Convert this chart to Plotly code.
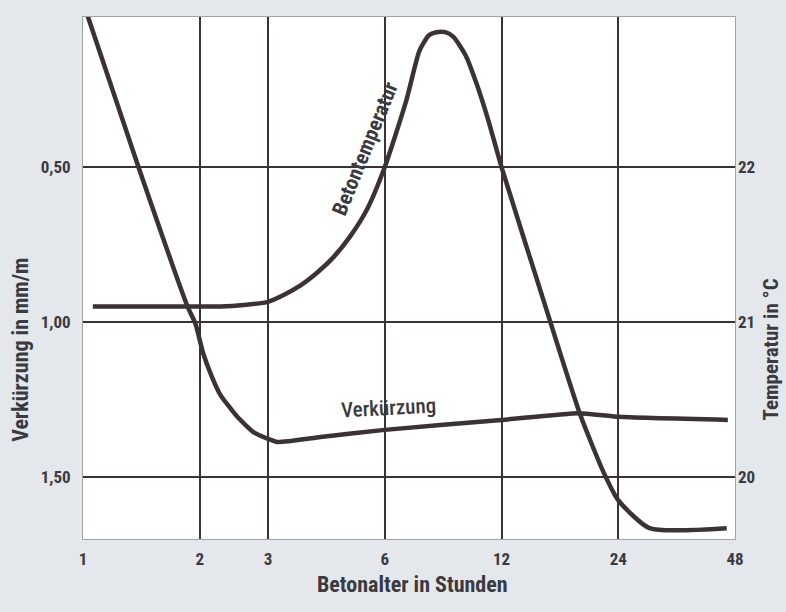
import math
import plotly.graph_objects as go

# Verkürzung (linke Achse, mm/m)
verk_stunden = [1.02, 1.39, 1.86, 1.95, 2.04, 2.15, 2.26, 2.50, 2.75, 3.0, 3.17, 4.1, 6, 12, 19, 24, 46]
verk_werte = [0.0, 0.5, 0.95, 1.006, 1.10, 1.177, 1.235, 1.306, 1.355, 1.377, 1.387, 1.371, 1.348, 1.316, 1.294, 1.306, 1.316]

# Betontemperatur (rechte Achse, °C)
temp_stunden = [1.06, 2.0, 2.26, 2.6, 3.0, 3.30, 3.63, 4.02, 4.42, 4.89, 5.41, 6.0, 6.82, 7.37, 7.8, 8.15, 8.6, 9.02, 9.7, 10.34, 11.1, 12, 15.4, 19.1, 22.0, 24, 28.9, 45.7]
temp_werte = [21.10, 21.10, 21.10, 21.11, 21.13, 21.176, 21.235, 21.32, 21.417, 21.554, 21.731, 22.0, 22.43, 22.75, 22.85, 22.87, 22.87, 22.84, 22.72, 22.54, 22.3, 22.0, 21.14, 20.41, 20.03, 19.85, 19.67, 19.67]

x_ticks = [1, 2, 3, 6, 12, 24, 48]
y_ticks = [0.5, 1.0, 1.5]
y_ticktext = ["0,50", "1,00", "1,50"]
y2_ticks = [20, 21, 22]

FONT = "Roboto Condensed, Liberation Sans Narrow, DejaVu Sans Condensed, sans-serif"
INK = "#3b3236"
TXT = "#3a3a40"

fig = go.Figure()
fig.add_trace(go.Scatter(x=verk_stunden, y=verk_werte, mode="lines",
                         line=dict(color=INK, width=4.5, shape="spline", smoothing=0.5),
                         yaxis="y", showlegend=False))
fig.add_trace(go.Scatter(x=temp_stunden, y=temp_werte, mode="lines",
                         line=dict(color=INK, width=4.5, shape="spline", smoothing=0.6),
                         yaxis="y2", showlegend=False))

fig.update_layout(
    width=786, height=612,
    margin=dict(l=83, r=51, t=17, b=73),
    paper_bgcolor="#e4e7ec",
    plot_bgcolor="white",
    font=dict(family=FONT, color=TXT, size=17, weight="bold"),
    xaxis=dict(type="log", range=[0, math.log10(48)],
               tickvals=x_ticks, ticktext=[str(v) for v in x_ticks],
               showgrid=True, gridcolor=INK, gridwidth=2,
               showline=True, mirror=True, linecolor="#a0a2a8", linewidth=1,
               ticks="", ticklabelstandoff=5, zeroline=False),
    yaxis=dict(range=[1.7, 0.0161], tickvals=y_ticks, ticktext=y_ticktext,
               showgrid=True, gridcolor=INK, gridwidth=2,
               showline=True, mirror=True, linecolor="#a0a2a8", linewidth=1,
               ticks="", ticklabelstandoff=8, zeroline=False),
    yaxis2=dict(range=[19.6, 22.968], tickvals=y2_ticks, ticktext=[str(v) for v in y2_ticks],
                overlaying="y", side="right", showgrid=False, zeroline=False,
                ticks="", ticklabelstandoff=2),
)

# Achsentitel
fig.add_annotation(text="Betonalter in Stunden", xref="paper", yref="paper",
                   x=0.506, y=-0.088, showarrow=False, font=dict(size=22),
                   xanchor="center", yanchor="middle")
fig.add_annotation(text="Verkürzung in mm/m", xref="paper", yref="paper",
                   x=-0.097, y=0.362, showarrow=False, textangle=-90, font=dict(size=22),
                   xanchor="center", yanchor="middle")
fig.add_annotation(text="Temperatur in °C", xref="paper", yref="paper",
                   x=1.056, y=0.362, showarrow=False, textangle=-90, font=dict(size=21),
                   xanchor="center", yanchor="middle", borderpad=0)

# Kurvenbeschriftungen
fig.add_annotation(text="Betontemperatur", x=math.log10(5.35), y=0.439, xref="x", yref="y",
                   showarrow=False, textangle=-68, font=dict(size=21))
fig.add_annotation(text="Verkürzung", x=math.log10(6.13), y=1.277, xref="x", yref="y",
                   showarrow=False, textangle=-3, font=dict(size=21, weight=500))

fig.write_html("out.html", config={"displayModeBar": False},
               post_script="document.body.style.margin='0';")
